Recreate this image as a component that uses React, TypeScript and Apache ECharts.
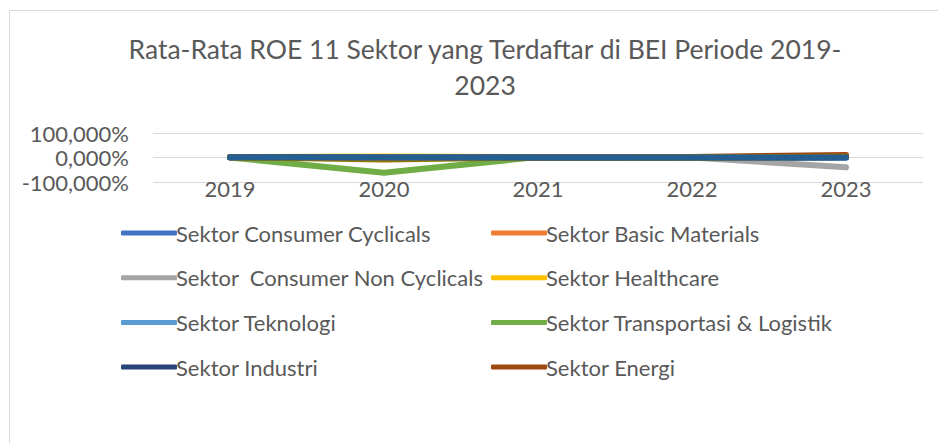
import React, { useEffect, useRef } from "react";
import * as echarts from "echarts";

const years = ["2019", "2020", "2021", "2022", "2023"];
const seriesNames = [
  "Sektor Consumer Cyclicals",
  "Sektor Basic Materials",
  "Sektor  Consumer Non Cyclicals",
  "Sektor Healthcare",
  "Sektor Teknologi",
  "Sektor Transportasi & Logistik",
  "Sektor Industri",
  "Sektor Energi",
  "Sektor Keuangan",
  "Sektor Properti & Real Estat",
  "Sektor Infrastruktur",
];
const seriesColors = [
  "#4472C4", "#ED7D31", "#A5A5A5", "#FFC000", "#5B9BD5", "#70AD47",
  "#264478", "#9E480E", "#636363", "#997300", "#255E91",
];
// values in percent
const consumerCyclicals = [1, 0, 0, 0, 0];
const basicMaterials = [2, 1, 0, 1, 6];
const consumerNonCyclicals = [1, 0, 0, 0, -40];
const healthcare = [2, 4, 1, 1, 2];
const teknologi = [0, -2, 0, 0, 0];
const transportasi = [0, -62, 2, 0, 2];
const industri = [1, 0, 0, 0, 2];
const energi = [2, -2, 0, 2, 10];
const keuangan = [1, 0, 0, 0, 1];
const properti = [1, -8, 0, 0, 3];
const infrastruktur = [1, 0, 0, 0, 0];
const seriesValues = [
  consumerCyclicals, basicMaterials, consumerNonCyclicals, healthcare, teknologi,
  transportasi, industri, energi, keuangan, properti, infrastruktur,
];
const yTicks = { min: -100, max: 100, interval: 100 };

const FONT = "Lato";
const TXT = "#595959";

export default function App() {
  const ref = useRef<HTMLDivElement>(null);
  useEffect(() => {
    document.body.style.margin = "0";
    const chart = echarts.init(ref.current!, null, { renderer: "svg" });
    const legendBase = {
      orient: "vertical",
      icon: "roundRect",
      itemWidth: 56,
      itemHeight: 5,
      itemGap: 22.7,
      textStyle: { fontFamily: FONT, fontSize: 22, color: TXT, padding: [0, 0, 0, -6] },
    };
    chart.setOption({
      animation: false,
      backgroundColor: "#ffffff",
      graphic: [
        {
          type: "rect",
          shape: { x: 9.5, y: 10.5, width: 960, height: 460 },
          style: { fill: "none", stroke: "#d9d9d9", lineWidth: 1 },
          silent: true,
        },
      ],
      title: {
        text: "Rata-Rata ROE 11 Sektor yang Terdaftar di BEI Periode 2019-\n2023",
        left: 480,
        top: 26,
        textAlign: "center",
        textStyle: {
          fontFamily: FONT,
          fontSize: 26.5,
          fontWeight: "normal",
          color: TXT,
          lineHeight: 36,
        },
      },
      legend: [
        { ...legendBase, left: 116, top: 217, data: seriesNames.filter((_, i) => i % 2 === 0 && i < 8) },
        { ...legendBase, left: 486, top: 217, data: seriesNames.filter((_, i) => i % 2 === 1 && i < 8) },
      ],
      grid: { left: 153, right: 15, top: 133, height: 49 },
      xAxis: {
        type: "category",
        data: years,
        boundaryGap: true,
        axisLine: { show: false },
        axisTick: { show: false },
        axisLabel: { fontFamily: FONT, fontSize: 22, color: TXT, margin: -5 },
      },
      yAxis: {
        type: "value",
        min: yTicks.min,
        max: yTicks.max,
        interval: yTicks.interval,
        axisLine: { show: false },
        axisTick: { show: false },
        splitLine: { lineStyle: { color: "#d9d9d9", width: 1 } },
        axisLabel: {
          fontFamily: FONT,
          fontSize: 22,
          color: TXT,
          margin: 24,
          formatter: (v: number) => v.toFixed(3).replace(".", ",") + "%",
        },
      },
      series: seriesNames.map((name, i) => ({
        name,
        type: "line",
        data: seriesValues[i],
        color: seriesColors[i],
        symbol: "none",
        lineStyle: { width: 6, cap: "round", join: "round", color: seriesColors[i] },
      })),
    });
    return () => chart.dispose();
  }, []);
  return <div ref={ref} style={{ width: 938, height: 443 }} />;
}
